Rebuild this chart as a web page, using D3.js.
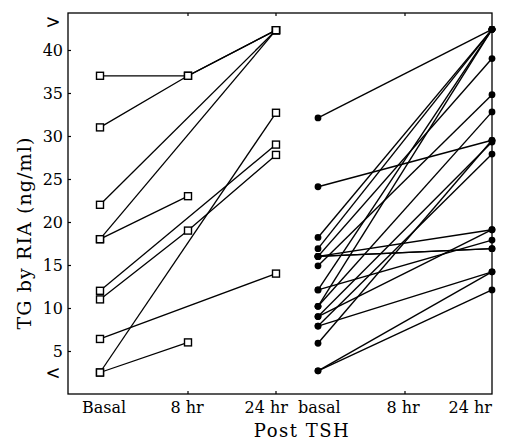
<!DOCTYPE html>
<html>
<head>
<meta charset="utf-8">
<script src="https://cdn.jsdelivr.net/npm/d3@7"></script>
<style>
  html, body { margin: 0; padding: 0; background: #fff; }
  svg { display: block; }
  text { font-family: "DejaVu Serif", "Liberation Serif", serif; fill: #000; }
</style>
</head>
<body>
<svg id="renderer" width="513" height="444"></svg>
<script>
// time points of the two groups
const leftTimes = ['Basal', '8 hr', '24 hr'];
const rightTimes = ['basal', '8 hr', '24 hr'];
const yTicks = [5, 10, 15, 20, 25, 30, 35, 40];
const upperLimit = 43.3;   // ">" mark
const lowerLimit = 2.5;    // "<" mark

// open squares: [basal, 8 hr, 24 hr], null = not measured
const squareSubjects = [
    [37, 37, 42.3],
    [31, 37, 42.3],
    [22, null, 42.3],
    [18, null, 42.3],
    [18, 23, null],
    [12, null, 29],
    [11, 19, 27.8],
    [6.4, null, 14],
    [2.5, null, 32.7],
    [2.5, 6, null]
];

// filled dots: basal -> 24 hr
const dotBasal = [32.1, 24.1, 18.2, 16.9, 16.0, 16.0, 16.0, 16.0, 14.9, 12.1, 12.1,
    10.2, 10.2, 9.0, 9.0, 7.9, 7.9, 5.9, 2.7, 2.7];
const dot24hr = [42.4, 29.5, 42.4, 42.4, 39.0, 16.9, 16.9, 19.1, 34.8, 42.4, 17.9,
    32.8, 42.4, 29.3, 19.1, 27.9, 14.2, 29.5, 14.2, 12.1];

const frame = {left: 68, right: 492, top: 13, bottom: 394};

const root = d3.select('#renderer');
let g = root.append('g');

let y = d3.scaleLinear().domain([0, 44.3]).range([frame.bottom, frame.top]);
let xL = d3.scalePoint().domain(leftTimes).range([100, 276]);
let xR = d3.scalePoint().domain(rightTimes).range([318, 492]);

let line = d3.line()
    .x(function (d) { return d.x; })
    .y(function (d) { return d.y; });

// frame
g.append('rect')
    .attr('x', frame.left).attr('y', frame.top)
    .attr('width', frame.right - frame.left)
    .attr('height', frame.bottom - frame.top)
    .attr('fill', 'none').attr('stroke', '#000').attr('stroke-width', 1.3);

// y axis, ticks pointing inwards
let yAxis = g.append('g')
    .attr('transform', 'translate(' + frame.left + ',0)')
    .call(d3.axisLeft(y).tickValues(yTicks).tickSize(-3).tickPadding(5));
yAxis.select('.domain').remove();
yAxis.selectAll('line').attr('stroke', '#000').attr('stroke-width', 1.2);
yAxis.selectAll('text')
    .attr('font-family', '"DejaVu Serif", serif')
    .attr('font-size', 16).attr('fill', '#000');

// limit marks
g.append('text').text('>')
    .attr('x', 53).attr('y', y(upperLimit))
    .attr('text-anchor', 'middle').attr('dy', '0.35em')
    .attr('font-size', 18);
g.append('text').text('<')
    .attr('x', 53).attr('y', y(lowerLimit))
    .attr('text-anchor', 'middle').attr('dy', '0.35em')
    .attr('font-size', 18);

// ticks on bottom and top edges
let tickXs = [xL('8 hr'), xL('24 hr'), xR('8 hr')];
tickXs.forEach(function (tx) {
    g.append('line')
        .attr('x1', tx).attr('x2', tx)
        .attr('y1', frame.bottom).attr('y2', frame.bottom - 3)
        .attr('stroke', '#000').attr('stroke-width', 1.2);
    g.append('line')
        .attr('x1', tx).attr('x2', tx)
        .attr('y1', frame.top).attr('y2', frame.top + 3)
        .attr('stroke', '#000').attr('stroke-width', 1.2);
});

// x labels
leftTimes.forEach(function (t, i) {
    let anchor = i === leftTimes.length - 1 ? 'end' : 'middle';
    let dx = i === leftTimes.length - 1 ? 12 : (i === 0 ? 4 : -1);
    g.append('text').text(t)
        .attr('x', xL(t) + dx).attr('y', 413)
        .attr('text-anchor', anchor).attr('font-size', 16);
});
rightTimes.forEach(function (t, i) {
    let anchor = i === 0 ? 'start' : (i === rightTimes.length - 1 ? 'end' : 'middle');
    let dx = i === 0 ? -20 : (i === rightTimes.length - 1 ? 0 : -2);
    g.append('text').text(t)
        .attr('x', xR(t) + dx).attr('y', 413)
        .attr('text-anchor', anchor).attr('font-size', 16);
});

// axis titles
g.append('text').text('Post TSH')
    .attr('x', 302).attr('y', 437)
    .attr('text-anchor', 'middle').attr('font-size', 18)
    .attr('letter-spacing', 1.5);
g.append('text').text('TG by RIA (ng/ml)')
    .attr('transform', 'translate(31,233) rotate(-90)')
    .attr('text-anchor', 'middle').attr('font-size', 19)
    .attr('letter-spacing', 1.1);

// left group lines
squareSubjects.forEach(function (s) {
    let pts = [];
    s.forEach(function (v, i) {
        if (v !== null) pts.push({x: xL(leftTimes[i]), y: y(v)});
    });
    g.append('path')
        .attr('d', line(pts))
        .attr('fill', 'none').attr('stroke', '#000').attr('stroke-width', 1.3);
});

// right group lines
dotBasal.forEach(function (b, i) {
    let pts = [{x: xR('basal'), y: y(b)}, {x: xR('24 hr'), y: y(dot24hr[i])}];
    g.append('path')
        .attr('d', line(pts))
        .attr('fill', 'none').attr('stroke', '#000').attr('stroke-width', 1.4);
});

// open squares
squareSubjects.forEach(function (s) {
    s.forEach(function (v, i) {
        if (v === null) return;
        g.append('rect')
            .attr('x', xL(leftTimes[i]) - 3.5).attr('y', y(v) - 3.5)
            .attr('width', 7).attr('height', 7)
            .attr('fill', '#fff').attr('stroke', '#000').attr('stroke-width', 1.4);
    });
});

// filled dots
dotBasal.forEach(function (b, i) {
    g.append('circle')
        .attr('cx', xR('basal')).attr('cy', y(b)).attr('r', 3.4)
        .attr('fill', '#000');
    g.append('circle')
        .attr('cx', xR('24 hr')).attr('cy', y(dot24hr[i])).attr('r', 3.4)
        .attr('fill', '#000');
});
</script>
</body>
</html>
